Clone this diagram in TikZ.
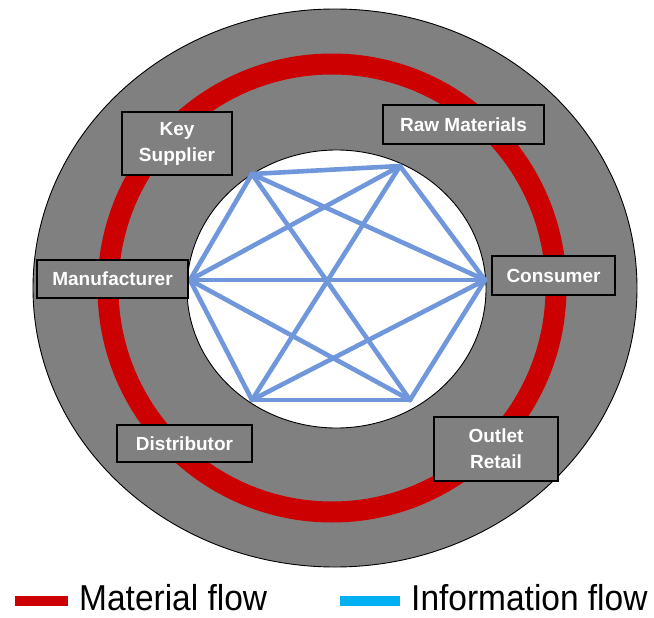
\documentclass[tikz,border=0pt]{standalone}
\usepackage{fontspec}
\newfontfamily\boxfont{Liberation Sans}[BoldFont={Liberation Sans Bold}]
\newfontfamily\legfont{Liberation Sans}[FakeStretch=0.93]
\definecolor{ringgray}{HTML}{808080}
\definecolor{matred}{HTML}{CC0000}
\definecolor{infoblue}{HTML}{7097DB}
\definecolor{legblue}{HTML}{00B0F0}
\begin{document}
\begin{tikzpicture}[x=1pt,y=-1pt,
  party/.style={draw=black,line width=2.4pt,fill=ringgray,text=white,
    font=\boxfont\bfseries\fontsize{19}{26}\selectfont,align=center,
    inner sep=0pt,anchor=center},
  infoline/.style={draw=infoblue,line width=4.6pt,line cap=round},
  legtext/.style={font=\legfont\fontsize{36}{40}\selectfont,anchor=base west,inner sep=0pt}]
\useasboundingbox (0,0) rectangle (654,618);
\fill[white] (0,0) rectangle (654,618);

% outer grey band, material ring and inner field
\filldraw[fill=ringgray,draw=black,line width=0.9pt] (335,288) ellipse [x radius=302,y radius=279];
\draw[matred,line width=21pt] (332,288) ellipse [x radius=224,y radius=224];
\filldraw[fill=white,draw=black,line width=0.9pt] (336.5,289) ellipse [x radius=149.5,y radius=139];

% corners of the information network
\coordinate (tl) at (252,174);
\coordinate (tr) at (400,166);
\coordinate (rr) at (485,280);
\coordinate (br) at (410,400);
\coordinate (bl) at (252,400);
\coordinate (ll) at (190,280);

% information flow: every pair except the two vertical sides
\foreach \a/\b in {tl/tr,tl/rr,tl/br,tl/ll,tr/ll,tr/rr,tr/bl,ll/rr,ll/bl,ll/br,rr/bl,rr/br,bl/br}
  \draw[infoline] (\a) -- (\b);

% supply chain parties
\node[party,minimum width=110pt,minimum height=63pt] (keysup) at (177,143.5) {Key\\Supplier};
\node[party,minimum width=161pt,minimum height=39pt] (raw) at (463.5,124.5) {Raw Materials};
\node[party,minimum width=151pt,minimum height=38pt] (manu) at (112.5,279) {Manufacturer};
\node[party,minimum width=123pt,minimum height=39pt] (cons) at (553.5,275.5) {Consumer};
\node[party,minimum width=135pt,minimum height=37pt] (dist) at (184.5,443.5) {Distributor};
\node[party,minimum width=124pt,minimum height=64pt] (outlet) at (496,449) {Outlet\\Retail};

% legend
\fill[matred] (15,596) rectangle (68,606);
\node[legtext] (matlab) at (79,610) {Material flow};
\fill[legblue] (340,596) rectangle (400,606);
\node[legtext] (infolab) at (411,610) {Information flow};
\end{tikzpicture}
\end{document}
